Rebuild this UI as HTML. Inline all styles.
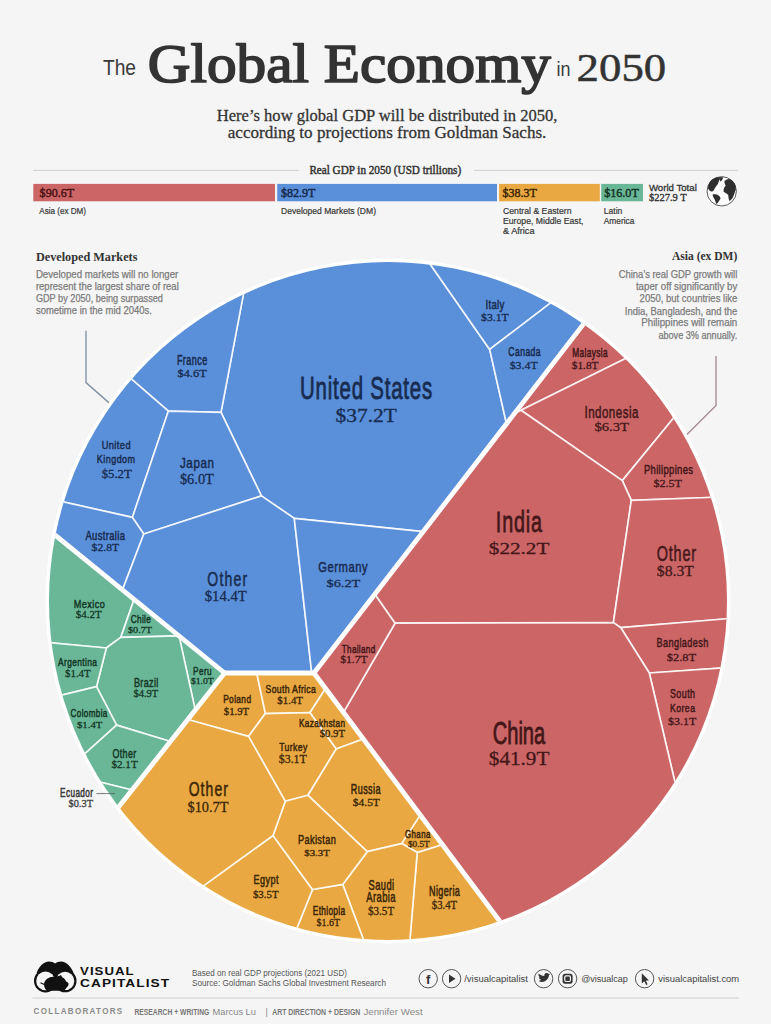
<!DOCTYPE html>
<html><head><meta charset="utf-8"><title>The Global Economy in 2050</title>
<style>
html,body{margin:0;padding:0;background:#f5f5f5;}
body{width:771px;height:1024px;overflow:hidden;}
svg{display:block;}
</style></head>
<body>
<svg width="771" height="1024" viewBox="0 0 771 1024">
<rect width="771" height="1024" fill="#f5f5f5"/>
<text x="103.0" y="74.7" font-family="'Liberation Sans', Arial, sans-serif" font-size="22.91" font-weight="normal" fill="#3a3a3a" text-anchor="start" textLength="33.0" lengthAdjust="spacingAndGlyphs">The</text>
<text x="147.7" y="81.8" font-family="'Liberation Serif', 'Times New Roman', serif" font-size="54.80" font-weight="normal" fill="#333333" text-anchor="start" textLength="403.2" lengthAdjust="spacingAndGlyphs" stroke="#333333" stroke-width="1.7" stroke-linejoin="round">Global Economy</text>
<text x="556.5" y="76.4" font-family="'Liberation Sans', Arial, sans-serif" font-size="20.50" font-weight="normal" fill="#3a3a3a" text-anchor="start" textLength="14.0" lengthAdjust="spacingAndGlyphs">in</text>
<text x="576.6" y="81.0" font-family="'Liberation Serif', 'Times New Roman', serif" font-size="40.80" font-weight="normal" fill="#333333" text-anchor="start" textLength="89.6" lengthAdjust="spacingAndGlyphs" stroke="#333333" stroke-width="0.5">2050</text>
<text x="216.8" y="120.7" font-family="'Liberation Serif', 'Times New Roman', serif" font-size="17.50" font-weight="normal" fill="#333333" text-anchor="start" textLength="340.7" lengthAdjust="spacingAndGlyphs" stroke="#333333" stroke-width="0.3">Here’s how global GDP will be distributed in 2050,</text>
<text x="227.8" y="138.4" font-family="'Liberation Serif', 'Times New Roman', serif" font-size="17.50" font-weight="normal" fill="#333333" text-anchor="start" textLength="318.6" lengthAdjust="spacingAndGlyphs" stroke="#333333" stroke-width="0.3">according to projections from Goldman Sachs.</text>
<text x="309.4" y="174.2" font-family="'Liberation Serif', 'Times New Roman', serif" font-size="12.00" font-weight="normal" fill="#333333" text-anchor="start" textLength="151.7" lengthAdjust="spacingAndGlyphs" stroke="#333333" stroke-width="0.45">Real GDP in 2050 (USD trillions)</text>
<line x1="33" y1="170.4" x2="298.5" y2="170.4" stroke="#cfcfcf" stroke-width="1"/>
<line x1="474" y1="170.4" x2="738" y2="170.4" stroke="#cfcfcf" stroke-width="1"/>
<rect x="33.3" y="183.9" width="241.7" height="17.4" fill="#cc6666"/>
<rect x="277.2" y="183.9" width="219.8" height="17.4" fill="#5a8fda"/>
<rect x="499.1" y="183.9" width="100.7" height="17.4" fill="#e9a841"/>
<rect x="601.2" y="183.9" width="41.8" height="17.4" fill="#6ab798"/>
<text x="39.6" y="196.7" font-family="'Liberation Serif', 'Times New Roman', serif" font-size="12.00" font-weight="normal" fill="#4a1212" text-anchor="start" textLength="34.6" lengthAdjust="spacingAndGlyphs" stroke-width="0.45" stroke="#4a1212">$90.6T</text>
<text x="281.0" y="196.7" font-family="'Liberation Serif', 'Times New Roman', serif" font-size="12.00" font-weight="normal" fill="#15294a" text-anchor="start" textLength="34.4" lengthAdjust="spacingAndGlyphs" stroke-width="0.45" stroke="#15294a">$82.9T</text>
<text x="502.6" y="196.7" font-family="'Liberation Serif', 'Times New Roman', serif" font-size="12.00" font-weight="normal" fill="#3d2606" text-anchor="start" textLength="34.2" lengthAdjust="spacingAndGlyphs" stroke-width="0.45" stroke="#3d2606">$38.3T</text>
<text x="604.2" y="196.7" font-family="'Liberation Serif', 'Times New Roman', serif" font-size="12.00" font-weight="normal" fill="#123424" text-anchor="start" textLength="34.6" lengthAdjust="spacingAndGlyphs" stroke-width="0.45" stroke="#123424">$16.0T</text>
<text x="39.3" y="213.7" font-family="'Liberation Sans', Arial, sans-serif" font-size="8.30" font-weight="normal" fill="#383838" text-anchor="start" textLength="46.7" lengthAdjust="spacingAndGlyphs" stroke="#383838" stroke-width="0.2">Asia (ex DM)</text>
<text x="281.0" y="213.7" font-family="'Liberation Sans', Arial, sans-serif" font-size="8.30" font-weight="normal" fill="#383838" text-anchor="start" textLength="95.0" lengthAdjust="spacingAndGlyphs" stroke="#383838" stroke-width="0.2">Developed Markets (DM)</text>
<text x="503.0" y="213.8" font-family="'Liberation Sans', Arial, sans-serif" font-size="8.30" font-weight="normal" fill="#383838" text-anchor="start" textLength="68.5" lengthAdjust="spacingAndGlyphs" stroke="#383838" stroke-width="0.2">Central &amp; Eastern</text>
<text x="503.0" y="223.9" font-family="'Liberation Sans', Arial, sans-serif" font-size="8.30" font-weight="normal" fill="#383838" text-anchor="start" textLength="80.5" lengthAdjust="spacingAndGlyphs" stroke="#383838" stroke-width="0.2">Europe, Middle East,</text>
<text x="503.0" y="234.0" font-family="'Liberation Sans', Arial, sans-serif" font-size="8.30" font-weight="normal" fill="#383838" text-anchor="start" textLength="31.5" lengthAdjust="spacingAndGlyphs" stroke="#383838" stroke-width="0.2">&amp; Africa</text>
<text x="603.8" y="213.8" font-family="'Liberation Sans', Arial, sans-serif" font-size="8.30" font-weight="normal" fill="#383838" text-anchor="start" textLength="18.5" lengthAdjust="spacingAndGlyphs" stroke="#383838" stroke-width="0.2">Latin</text>
<text x="603.8" y="223.9" font-family="'Liberation Sans', Arial, sans-serif" font-size="8.30" font-weight="normal" fill="#383838" text-anchor="start" textLength="30.5" lengthAdjust="spacingAndGlyphs" stroke="#383838" stroke-width="0.2">America</text>
<text x="648.9" y="190.7" font-family="'Liberation Sans', Arial, sans-serif" font-size="9.80" font-weight="normal" fill="#333333" text-anchor="start" textLength="47.9" lengthAdjust="spacingAndGlyphs" stroke="#333333" stroke-width="0.3">World Total</text>
<text x="648.9" y="200.9" font-family="'Liberation Serif', 'Times New Roman', serif" font-size="11.20" font-weight="normal" fill="#333333" text-anchor="start" textLength="37.8" lengthAdjust="spacingAndGlyphs" stroke="#333333" stroke-width="0.35">$227.9 T</text>
<circle cx="721.7" cy="191.3" r="14.7" fill="#fbfbfb" stroke="#4a4a4a" stroke-width="0.9"/>
<g fill="#2e2e2e">
<path d="M708.0 188.6 C707.9 185.0 709.3 182.0 711.2 180.2 C713.0 178.6 715.5 177.6 718.0 177.3 L720.6 177.2 L719.6 179.6 C718.9 181.2 718.4 182.6 717.9 184.0 C716.6 185.6 715.2 187.2 714.4 189.2 C713.6 190.8 712.6 191.4 711.3 191.6 C710.0 191.2 709.0 190.2 708.0 188.6Z"/>
<path d="M719.4 177.6 C720.6 177.0 722.2 177.0 723.2 177.6 C722.8 179.2 721.8 180.6 720.6 181.6 C719.8 180.6 719.4 179.2 719.4 177.6Z"/>
<path d="M712.6 194.4 C714.6 194.0 716.8 194.4 718.2 195.2 C719.6 196.2 720.4 197.4 720.6 198.4 C719.6 200.0 718.4 201.6 717.4 203.2 C716.9 203.9 716.3 204.0 716.0 203.4 C715.6 201.8 715.2 200.4 714.6 199.2 C713.6 197.8 712.8 196.2 712.6 194.4Z"/>
<path d="M724.4 181.0 C726.0 179.6 727.8 178.8 729.4 178.9 C731.6 179.6 733.6 181.4 734.8 183.6 C735.6 185.6 736.0 187.6 735.8 189.6 C735.0 192.0 734.0 194.6 733.0 197.2 C732.0 199.0 730.6 200.4 729.4 201.0 C728.6 199.2 728.4 197.0 728.2 195.0 C727.0 193.6 725.2 192.8 723.8 192.0 C723.4 190.6 723.6 189.2 724.0 188.2 C724.6 187.0 725.2 186.2 725.8 185.6 C725.0 184.4 724.4 182.8 724.4 181.0Z"/>
</g>
<text x="35.9" y="260.5" font-family="'Liberation Serif', 'Times New Roman', serif" font-size="12.60" font-weight="bold" fill="#333333" text-anchor="start" textLength="101.5" lengthAdjust="spacingAndGlyphs">Developed Markets</text>
<text x="35.9" y="278.1" font-family="'Liberation Sans', Arial, sans-serif" font-size="10.20" font-weight="normal" fill="#7c7c7c" text-anchor="start" textLength="142.4" lengthAdjust="spacingAndGlyphs" stroke="#7c7c7c" stroke-width="0.25">Developed markets will no longer</text>
<text x="35.9" y="290.2" font-family="'Liberation Sans', Arial, sans-serif" font-size="10.20" font-weight="normal" fill="#7c7c7c" text-anchor="start" textLength="142.9" lengthAdjust="spacingAndGlyphs" stroke="#7c7c7c" stroke-width="0.25">represent the largest share of real</text>
<text x="35.9" y="302.4" font-family="'Liberation Sans', Arial, sans-serif" font-size="10.20" font-weight="normal" fill="#7c7c7c" text-anchor="start" textLength="127.0" lengthAdjust="spacingAndGlyphs" stroke="#7c7c7c" stroke-width="0.25">GDP by 2050, being surpassed</text>
<text x="35.9" y="314.4" font-family="'Liberation Sans', Arial, sans-serif" font-size="10.20" font-weight="normal" fill="#7c7c7c" text-anchor="start" textLength="116.0" lengthAdjust="spacingAndGlyphs" stroke="#7c7c7c" stroke-width="0.25">sometime in the mid 2040s.</text>
<text x="737.3" y="260.3" font-family="'Liberation Serif', 'Times New Roman', serif" font-size="12.60" font-weight="bold" fill="#333333" text-anchor="end" textLength="65.3" lengthAdjust="spacingAndGlyphs">Asia (ex DM)</text>
<text x="618.7" y="277.9" font-family="'Liberation Sans', Arial, sans-serif" font-size="10.20" font-weight="normal" fill="#7c7c7c" text-anchor="start" textLength="118.6" lengthAdjust="spacingAndGlyphs" stroke="#7c7c7c" stroke-width="0.25">China’s real GDP growth will</text>
<text x="635.9" y="290.3" font-family="'Liberation Sans', Arial, sans-serif" font-size="10.20" font-weight="normal" fill="#7c7c7c" text-anchor="start" textLength="101.4" lengthAdjust="spacingAndGlyphs" stroke="#7c7c7c" stroke-width="0.25">taper off significantly by</text>
<text x="639.6" y="302.2" font-family="'Liberation Sans', Arial, sans-serif" font-size="10.20" font-weight="normal" fill="#7c7c7c" text-anchor="start" textLength="97.7" lengthAdjust="spacingAndGlyphs" stroke="#7c7c7c" stroke-width="0.25">2050, but countries like</text>
<text x="624.8" y="314.5" font-family="'Liberation Sans', Arial, sans-serif" font-size="10.20" font-weight="normal" fill="#7c7c7c" text-anchor="start" textLength="112.5" lengthAdjust="spacingAndGlyphs" stroke="#7c7c7c" stroke-width="0.25">India, Bangladesh, and the</text>
<text x="641.2" y="326.4" font-family="'Liberation Sans', Arial, sans-serif" font-size="10.20" font-weight="normal" fill="#7c7c7c" text-anchor="start" textLength="96.1" lengthAdjust="spacingAndGlyphs" stroke="#7c7c7c" stroke-width="0.25">Philippines will remain</text>
<text x="658.4" y="338.8" font-family="'Liberation Sans', Arial, sans-serif" font-size="10.20" font-weight="normal" fill="#7c7c7c" text-anchor="start" textLength="78.9" lengthAdjust="spacingAndGlyphs" stroke="#7c7c7c" stroke-width="0.25">above 3% annually.</text>
<polyline points="86.0,330.8 86.0,382.6 110.8,404.4" fill="none" stroke="#8394a7" stroke-width="1.4"/>
<polyline points="716.0,356.1 716.0,405.5 684.7,436.7" fill="none" stroke="#a98c94" stroke-width="1.4"/>
<defs><clipPath id="cc"><circle cx="388.0" cy="601.0" r="339.0"/></clipPath></defs>
<circle cx="388.0" cy="601.0" r="342.4" fill="#ffffff"/>
<g clip-path="url(#cc)">
<polygon points="245.67,282.34 245.67,282.34 254.00,278.75 262.43,275.37 270.94,272.22 279.53,269.28 288.20,266.57 296.93,264.09 305.72,261.84 314.57,259.81 323.47,258.02 332.41,256.46 341.39,255.13 350.40,254.03 359.44,253.17 368.49,252.55 377.56,252.16 386.64,252.00 395.71,252.09 404.79,252.40 413.85,252.96 422.89,253.75 422.89,253.75 489.70,349.40 506.51,423.74 423.15,531.64 294.30,518.40 261.40,495.90 221.00,412.40" fill="#5a8fda" stroke="#ffffff" stroke-opacity="0.85" stroke-width="1.7" stroke-linejoin="round"/>
<polygon points="422.89,253.75 422.89,253.75 431.81,254.76 440.70,256.00 449.55,257.47 458.37,259.17 467.13,261.09 475.85,263.24 484.51,265.61 493.10,268.20 501.62,271.01 510.07,274.04 518.44,277.29 526.72,280.75 534.91,284.43 543.00,288.31 550.99,292.40 558.87,296.69 558.87,296.69 489.70,349.40" fill="#5a8fda" stroke="#ffffff" stroke-opacity="0.85" stroke-width="1.7" stroke-linejoin="round"/>
<polygon points="558.87,296.69 558.87,296.69 566.75,301.25 574.51,306.02 582.14,310.98 589.64,316.15 589.64,316.15 506.51,423.74 489.70,349.40" fill="#5a8fda" stroke="#ffffff" stroke-opacity="0.85" stroke-width="1.7" stroke-linejoin="round"/>
<polygon points="124.03,372.71 124.03,372.71 129.99,365.99 136.13,359.42 142.43,353.02 148.89,346.78 155.52,340.71 162.29,334.81 169.22,329.09 176.29,323.54 183.51,318.19 190.85,313.02 198.33,308.04 205.94,303.25 213.66,298.66 221.50,294.27 229.46,290.09 237.51,286.11 245.67,282.34 245.67,282.34 221.00,412.40 168.40,411.10" fill="#5a8fda" stroke="#ffffff" stroke-opacity="0.85" stroke-width="1.7" stroke-linejoin="round"/>
<polygon points="53.99,499.82 53.99,499.82 56.75,491.12 59.74,482.48 62.96,473.93 66.39,465.46 70.05,457.09 73.93,448.81 78.02,440.64 82.33,432.58 86.84,424.64 91.56,416.82 96.48,409.12 101.61,401.55 106.93,394.12 112.44,386.84 118.14,379.69 124.03,372.71 124.03,372.71 168.40,411.10 132.40,517.40" fill="#5a8fda" stroke="#ffffff" stroke-opacity="0.85" stroke-width="1.7" stroke-linejoin="round"/>
<polygon points="168.40,411.10 221.00,412.40 261.40,495.90 143.80,534.00 132.40,517.40" fill="#5a8fda" stroke="#ffffff" stroke-opacity="0.85" stroke-width="1.7" stroke-linejoin="round"/>
<polygon points="46.67,528.23 46.67,528.23 48.84,518.69 51.28,509.22 53.99,499.82 53.99,499.82 132.40,517.40 143.80,534.00 122.47,589.90" fill="#5a8fda" stroke="#ffffff" stroke-opacity="0.85" stroke-width="1.7" stroke-linejoin="round"/>
<polygon points="143.80,534.00 261.40,495.90 294.30,518.40 311.74,673.00 224.60,673.00 122.47,589.90" fill="#5a8fda" stroke="#ffffff" stroke-opacity="0.85" stroke-width="1.7" stroke-linejoin="round"/>
<polygon points="294.30,518.40 423.15,531.64 313.94,673.00 311.74,673.00" fill="#5a8fda" stroke="#ffffff" stroke-opacity="0.85" stroke-width="1.7" stroke-linejoin="round"/>
<polygon points="589.64,316.15 589.64,316.15 597.58,321.93 605.34,327.94 612.94,334.16 620.35,340.59 627.58,347.23 634.63,354.07 634.63,354.07 521.00,410.20 514.50,413.41" fill="#cc6666" stroke="#ffffff" stroke-opacity="0.85" stroke-width="1.7" stroke-linejoin="round"/>
<polygon points="521.00,410.20 634.63,354.07 634.63,354.07 640.94,360.53 647.08,367.16 653.04,373.95 658.83,380.88 664.44,387.97 669.86,395.19 675.09,402.56 680.13,410.06 680.13,410.06 622.30,480.60" fill="#cc6666" stroke="#ffffff" stroke-opacity="0.85" stroke-width="1.7" stroke-linejoin="round"/>
<polygon points="622.30,480.60 680.13,410.06 680.13,410.06 684.84,417.46 689.36,424.97 693.68,432.60 697.82,440.33 701.76,448.17 705.50,456.10 709.04,464.12 712.38,472.23 715.51,480.43 718.44,488.69 721.15,497.03 721.15,497.03 631.30,500.30" fill="#cc6666" stroke="#ffffff" stroke-opacity="0.85" stroke-width="1.7" stroke-linejoin="round"/>
<polygon points="514.50,413.41 521.00,410.20 622.30,480.60 631.30,500.30 613.40,622.60 395.00,623.20 374.79,594.25" fill="#cc6666" stroke="#ffffff" stroke-opacity="0.85" stroke-width="1.7" stroke-linejoin="round"/>
<polygon points="631.30,500.30 721.15,497.03 721.15,497.03 723.66,505.42 725.95,513.86 728.03,522.37 729.89,530.92 731.54,539.51 732.97,548.15 734.19,556.82 735.19,565.51 735.97,574.23 736.53,582.96 736.88,591.71 737.00,600.46 736.90,609.21 736.59,617.96 736.59,617.96 620.80,627.70 613.40,622.60" fill="#cc6666" stroke="#ffffff" stroke-opacity="0.85" stroke-width="1.7" stroke-linejoin="round"/>
<polygon points="620.80,627.70 736.59,617.96 736.59,617.96 735.96,627.92 735.05,637.87 733.85,647.78 732.37,657.65 730.61,667.48 730.61,667.48 649.30,673.00" fill="#cc6666" stroke="#ffffff" stroke-opacity="0.85" stroke-width="1.7" stroke-linejoin="round"/>
<polygon points="649.30,673.00 730.61,667.48 730.61,667.48 728.72,676.55 726.60,685.57 724.23,694.53 721.63,703.43 718.79,712.25 715.72,720.99 712.42,729.65 708.89,738.22 705.14,746.69 701.15,755.06 696.95,763.32 692.54,771.47 687.90,779.49 683.06,787.39 678.00,795.16 678.00,795.16" fill="#cc6666" stroke="#ffffff" stroke-opacity="0.85" stroke-width="1.7" stroke-linejoin="round"/>
<polygon points="395.00,623.20 613.40,622.60 620.80,627.70 649.30,673.00 678.00,795.16 678.00,795.16 672.97,802.48 667.75,809.66 662.35,816.71 656.78,823.62 651.03,830.38 645.11,837.00 639.02,843.47 632.77,849.77 626.36,855.92 619.80,861.90 613.09,867.71 606.23,873.35 599.23,878.82 592.10,884.10 584.83,889.20 577.43,894.11 569.92,898.84 562.28,903.37 554.53,907.70 546.68,911.84 538.72,915.78 530.66,919.51 522.51,923.04 514.28,926.35 505.96,929.46 505.96,929.46 343.44,712.40" fill="#cc6666" stroke="#ffffff" stroke-opacity="0.85" stroke-width="1.7" stroke-linejoin="round"/>
<polygon points="374.79,594.25 395.00,623.20 343.44,712.40 313.94,673.00" fill="#cc6666" stroke="#ffffff" stroke-opacity="0.85" stroke-width="1.7" stroke-linejoin="round"/>
<polygon points="224.60,673.00 256.79,673.00 265.40,713.60 248.50,736.40 187.80,719.53" fill="#e9a841" stroke="#ffffff" stroke-opacity="0.85" stroke-width="1.7" stroke-linejoin="round"/>
<polygon points="256.79,673.00 313.94,673.00 325.60,688.57 309.90,712.70 265.40,713.60" fill="#e9a841" stroke="#ffffff" stroke-opacity="0.85" stroke-width="1.7" stroke-linejoin="round"/>
<polygon points="309.90,712.70 325.60,688.57 363.33,738.96 336.20,749.00" fill="#e9a841" stroke="#ffffff" stroke-opacity="0.85" stroke-width="1.7" stroke-linejoin="round"/>
<polygon points="265.40,713.60 309.90,712.70 336.20,749.00 308.00,795.30 285.30,801.30 248.50,736.40" fill="#e9a841" stroke="#ffffff" stroke-opacity="0.85" stroke-width="1.7" stroke-linejoin="round"/>
<polygon points="336.20,749.00 363.33,738.96 420.36,815.13 401.70,843.60 367.20,851.70 308.00,795.30" fill="#e9a841" stroke="#ffffff" stroke-opacity="0.85" stroke-width="1.7" stroke-linejoin="round"/>
<polygon points="401.70,843.60 420.36,815.13 442.53,844.74 417.20,852.60" fill="#e9a841" stroke="#ffffff" stroke-opacity="0.85" stroke-width="1.7" stroke-linejoin="round"/>
<polygon points="417.20,852.60 442.53,844.74 505.96,929.46 505.96,929.46 497.43,932.40 488.84,935.12 480.17,937.61 471.44,939.88 462.66,941.92 453.82,943.74 444.95,945.32 436.03,946.68 427.09,947.80 418.11,948.70 409.12,949.36 409.12,949.36" fill="#e9a841" stroke="#ffffff" stroke-opacity="0.85" stroke-width="1.7" stroke-linejoin="round"/>
<polygon points="367.20,851.70 401.70,843.60 417.20,852.60 409.12,949.36 409.12,949.36 398.62,949.84 388.12,950.00 377.62,949.85 367.12,949.38 367.12,949.38 342.70,884.40" fill="#e9a841" stroke="#ffffff" stroke-opacity="0.85" stroke-width="1.7" stroke-linejoin="round"/>
<polygon points="342.70,884.40 367.12,949.38 367.12,949.38 357.78,948.69 348.46,947.75 339.17,946.57 329.92,945.13 320.70,943.45 311.54,941.52 302.43,939.35 293.38,936.93 293.38,936.93 312.50,889.50" fill="#e9a841" stroke="#ffffff" stroke-opacity="0.85" stroke-width="1.7" stroke-linejoin="round"/>
<polygon points="273.00,835.50 312.50,889.50 293.38,936.93 293.38,936.93 284.71,934.37 276.11,931.58 267.59,928.57 259.15,925.34 250.79,921.90 242.53,918.24 234.36,914.36 226.29,910.28 218.34,905.99 210.50,901.49 202.77,896.79 195.18,891.89 195.18,891.89" fill="#e9a841" stroke="#ffffff" stroke-opacity="0.85" stroke-width="1.7" stroke-linejoin="round"/>
<polygon points="285.30,801.30 308.00,795.30 367.20,851.70 342.70,884.40 312.50,889.50 273.00,835.50" fill="#e9a841" stroke="#ffffff" stroke-opacity="0.85" stroke-width="1.7" stroke-linejoin="round"/>
<polygon points="187.80,719.53 248.50,736.40 285.30,801.30 273.00,835.50 195.18,891.89 195.18,891.89 187.95,886.98 180.86,881.88 173.89,876.61 167.06,871.16 160.37,865.55 153.82,859.77 147.41,853.82 141.16,847.72 135.06,841.47 129.12,835.06 123.35,828.51 117.73,821.81 112.29,814.98 112.29,814.98" fill="#e9a841" stroke="#ffffff" stroke-opacity="0.85" stroke-width="1.7" stroke-linejoin="round"/>
<polygon points="46.67,528.23 134.11,599.37 120.80,637.40 106.30,648.00 41.40,641.83 41.40,641.83 40.48,633.09 39.78,624.33 39.30,615.56 39.05,606.78 39.01,597.99 39.20,589.20 39.61,580.43 40.24,571.66 41.08,562.92 42.15,554.19 43.44,545.50 44.95,536.85 46.67,528.23 46.67,528.23" fill="#6ab798" stroke="#ffffff" stroke-opacity="0.85" stroke-width="1.7" stroke-linejoin="round"/>
<polygon points="134.11,599.37 179.04,635.93 120.80,637.40" fill="#6ab798" stroke="#ffffff" stroke-opacity="0.85" stroke-width="1.7" stroke-linejoin="round"/>
<polygon points="179.04,635.93 224.60,673.00 195.25,710.10" fill="#6ab798" stroke="#ffffff" stroke-opacity="0.85" stroke-width="1.7" stroke-linejoin="round"/>
<polygon points="120.80,637.40 179.04,635.93 195.25,710.10 170.43,741.48 116.60,725.10 96.50,686.70 106.30,648.00" fill="#6ab798" stroke="#ffffff" stroke-opacity="0.85" stroke-width="1.7" stroke-linejoin="round"/>
<polygon points="41.40,641.83 106.30,648.00 96.50,686.70 52.56,697.33 52.56,697.33 50.07,688.22 47.84,679.04 45.85,669.81 44.11,660.52 42.63,651.20 41.40,641.83 41.40,641.83" fill="#6ab798" stroke="#ffffff" stroke-opacity="0.85" stroke-width="1.7" stroke-linejoin="round"/>
<polygon points="52.56,697.33 96.50,686.70 116.60,725.10 77.52,760.37 77.52,760.37 73.21,751.68 69.14,742.88 65.32,733.96 61.75,724.94 58.43,715.82 55.37,706.62 52.56,697.33 52.56,697.33" fill="#6ab798" stroke="#ffffff" stroke-opacity="0.85" stroke-width="1.7" stroke-linejoin="round"/>
<polygon points="77.52,760.37 116.60,725.10 170.43,741.48 132.04,790.01 87.95,779.24 87.95,779.24 82.58,769.89 77.52,760.37 77.52,760.37" fill="#6ab798" stroke="#ffffff" stroke-opacity="0.85" stroke-width="1.7" stroke-linejoin="round"/>
<polygon points="87.95,779.24 132.04,790.01 112.29,814.98 112.29,814.98 105.79,806.33 99.56,797.48 93.61,788.45 87.95,779.24 87.95,779.24" fill="#6ab798" stroke="#ffffff" stroke-opacity="0.85" stroke-width="1.7" stroke-linejoin="round"/>
<line x1="589.64" y1="316.15" x2="313.94" y2="673.00" stroke="#ffffff" stroke-width="4.8" stroke-linecap="round"/>
<line x1="224.60" y1="673.00" x2="313.94" y2="673.00" stroke="#ffffff" stroke-width="4.8" stroke-linecap="round"/>
<line x1="46.67" y1="528.23" x2="224.60" y2="673.00" stroke="#ffffff" stroke-width="4.8" stroke-linecap="round"/>
<line x1="224.60" y1="673.00" x2="112.29" y2="814.98" stroke="#ffffff" stroke-width="4.8" stroke-linecap="round"/>
<line x1="313.94" y1="673.00" x2="505.96" y2="929.46" stroke="#ffffff" stroke-width="4.8" stroke-linecap="round"/>
</g>
<text transform="translate(300.0 399.4) scale(0.670 1)" font-family="'Liberation Sans', Arial, sans-serif" font-size="30.45" fill="#172c50" stroke="#172c50" stroke-width="0.82" textLength="197.2" lengthAdjust="spacing">United States</text>
<text x="335.6" y="422.3" font-family="'Liberation Serif', 'Times New Roman', serif" font-size="18.24" fill="#172c50" stroke="#172c50" stroke-width="0.30" textLength="61.3" lengthAdjust="spacingAndGlyphs">$37.2T</text>
<text transform="translate(485.4 308.7) scale(0.719 1)" font-family="'Liberation Sans', Arial, sans-serif" font-size="13.41" fill="#172c50" stroke="#172c50" stroke-width="0.52" textLength="26.4" lengthAdjust="spacing">Italy</text>
<text x="481.1" y="320.6" font-family="'Liberation Serif', 'Times New Roman', serif" font-size="10.54" fill="#172c50" stroke="#172c50" stroke-width="0.28" textLength="27.7" lengthAdjust="spacingAndGlyphs">$3.1T</text>
<text transform="translate(508.3 356.0) scale(0.698 1)" font-family="'Liberation Sans', Arial, sans-serif" font-size="12.29" fill="#172c50" stroke="#172c50" stroke-width="0.54" textLength="46.3" lengthAdjust="spacing">Canada</text>
<text x="509.7" y="368.8" font-family="'Liberation Serif', 'Times New Roman', serif" font-size="11.08" fill="#172c50" stroke="#172c50" stroke-width="0.28" textLength="28.0" lengthAdjust="spacingAndGlyphs">$3.4T</text>
<text transform="translate(176.9 364.5) scale(0.657 1)" font-family="'Liberation Sans', Arial, sans-serif" font-size="13.83" fill="#172c50" stroke="#172c50" stroke-width="0.57" textLength="46.3" lengthAdjust="spacing">France</text>
<text x="177.5" y="376.8" font-family="'Liberation Serif', 'Times New Roman', serif" font-size="9.46" fill="#172c50" stroke="#172c50" stroke-width="0.28" textLength="29.2" lengthAdjust="spacingAndGlyphs">$4.6T</text>
<text transform="translate(101.7 449.1) scale(0.790 1)" font-family="'Liberation Sans', Arial, sans-serif" font-size="11.73" fill="#172c50" stroke="#172c50" stroke-width="0.47" textLength="36.5" lengthAdjust="spacing">United</text>
<text transform="translate(96.8 462.7) scale(0.769 1)" font-family="'Liberation Sans', Arial, sans-serif" font-size="11.73" fill="#172c50" stroke="#172c50" stroke-width="0.49" textLength="49.8" lengthAdjust="spacing">Kingdom</text>
<text x="101.7" y="477.7" font-family="'Liberation Serif', 'Times New Roman', serif" font-size="11.89" fill="#172c50" stroke="#172c50" stroke-width="0.28" textLength="30.1" lengthAdjust="spacingAndGlyphs">$5.2T</text>
<text transform="translate(179.9 467.9) scale(0.781 1)" font-family="'Liberation Sans', Arial, sans-serif" font-size="14.94" fill="#172c50" stroke="#172c50" stroke-width="0.48" textLength="43.8" lengthAdjust="spacing">Japan</text>
<text x="179.9" y="483.5" font-family="'Liberation Serif', 'Times New Roman', serif" font-size="14.46" fill="#172c50" stroke="#172c50" stroke-width="0.30" textLength="34.0" lengthAdjust="spacingAndGlyphs">$6.0T</text>
<text transform="translate(85.4 540.0) scale(0.704 1)" font-family="'Liberation Sans', Arial, sans-serif" font-size="13.41" fill="#172c50" stroke="#172c50" stroke-width="0.53" textLength="56.1" lengthAdjust="spacing">Australia</text>
<text x="91.6" y="550.6" font-family="'Liberation Serif', 'Times New Roman', serif" font-size="9.86" fill="#172c50" stroke="#172c50" stroke-width="0.28" textLength="27.5" lengthAdjust="spacingAndGlyphs">$2.8T</text>
<text transform="translate(207.3 585.6) scale(0.670 1)" font-family="'Liberation Sans', Arial, sans-serif" font-size="20.95" fill="#172c50" stroke="#172c50" stroke-width="0.56" textLength="59.7" lengthAdjust="spacing">Other</text>
<text x="204.7" y="601.2" font-family="'Liberation Serif', 'Times New Roman', serif" font-size="14.32" fill="#172c50" stroke="#172c50" stroke-width="0.30" textLength="42.1" lengthAdjust="spacingAndGlyphs">$14.4T</text>
<text transform="translate(318.2 572.3) scale(0.735 1)" font-family="'Liberation Sans', Arial, sans-serif" font-size="15.22" fill="#172c50" stroke="#172c50" stroke-width="0.51" textLength="67.3" lengthAdjust="spacing">Germany</text>
<text x="326.6" y="586.7" font-family="'Liberation Serif', 'Times New Roman', serif" font-size="11.35" fill="#172c50" stroke="#172c50" stroke-width="0.28" textLength="33.7" lengthAdjust="spacingAndGlyphs">$6.2T</text>
<text transform="translate(572.3 357.2) scale(0.662 1)" font-family="'Liberation Sans', Arial, sans-serif" font-size="12.57" fill="#441719" stroke="#441719" stroke-width="0.57" textLength="53.3" lengthAdjust="spacing">Malaysia</text>
<text x="571.8" y="368.5" font-family="'Liberation Serif', 'Times New Roman', serif" font-size="10.27" fill="#441719" stroke="#441719" stroke-width="0.28" textLength="26.7" lengthAdjust="spacingAndGlyphs">$1.8T</text>
<text transform="translate(584.5 417.7) scale(0.726 1)" font-family="'Liberation Sans', Arial, sans-serif" font-size="15.92" fill="#441719" stroke="#441719" stroke-width="0.52" textLength="74.2" lengthAdjust="spacing">Indonesia</text>
<text x="594.5" y="431.1" font-family="'Liberation Serif', 'Times New Roman', serif" font-size="12.70" fill="#441719" stroke="#441719" stroke-width="0.28" textLength="34.5" lengthAdjust="spacingAndGlyphs">$6.3T</text>
<text transform="translate(643.9 474.2) scale(0.712 1)" font-family="'Liberation Sans', Arial, sans-serif" font-size="13.27" fill="#441719" stroke="#441719" stroke-width="0.53" textLength="69.0" lengthAdjust="spacing">Philippines</text>
<text x="653.5" y="486.6" font-family="'Liberation Serif', 'Times New Roman', serif" font-size="9.86" fill="#441719" stroke="#441719" stroke-width="0.28" textLength="28.5" lengthAdjust="spacingAndGlyphs">$2.5T</text>
<text transform="translate(495.8 531.5) scale(0.670 1)" font-family="'Liberation Sans', Arial, sans-serif" font-size="29.47" fill="#441719" stroke="#441719" stroke-width="0.79" textLength="69.0" lengthAdjust="spacing">India</text>
<text x="488.8" y="553.8" font-family="'Liberation Serif', 'Times New Roman', serif" font-size="17.03" fill="#441719" stroke="#441719" stroke-width="0.30" textLength="60.6" lengthAdjust="spacingAndGlyphs">$22.2T</text>
<text transform="translate(656.8 560.7) scale(0.670 1)" font-family="'Liberation Sans', Arial, sans-serif" font-size="21.51" fill="#441719" stroke="#441719" stroke-width="0.58" textLength="58.5" lengthAdjust="spacing">Other</text>
<text x="656.8" y="576.1" font-family="'Liberation Serif', 'Times New Roman', serif" font-size="13.92" fill="#441719" stroke="#441719" stroke-width="0.28" textLength="37.0" lengthAdjust="spacingAndGlyphs">$8.3T</text>
<text transform="translate(656.6 647.4) scale(0.715 1)" font-family="'Liberation Sans', Arial, sans-serif" font-size="12.71" fill="#441719" stroke="#441719" stroke-width="0.52" textLength="72.2" lengthAdjust="spacing">Bangladesh</text>
<text x="666.8" y="661.3" font-family="'Liberation Serif', 'Times New Roman', serif" font-size="10.14" fill="#441719" stroke="#441719" stroke-width="0.28" textLength="29.3" lengthAdjust="spacingAndGlyphs">$2.8T</text>
<text transform="translate(669.9 698.4) scale(0.744 1)" font-family="'Liberation Sans', Arial, sans-serif" font-size="12.01" fill="#441719" stroke="#441719" stroke-width="0.50" textLength="33.8" lengthAdjust="spacing">South</text>
<text transform="translate(669.9 711.8) scale(0.835 1)" font-family="'Liberation Sans', Arial, sans-serif" font-size="10.47" fill="#441719" stroke="#441719" stroke-width="0.45" textLength="30.1" lengthAdjust="spacing">Korea</text>
<text x="668.1" y="724.7" font-family="'Liberation Serif', 'Times New Roman', serif" font-size="10.14" fill="#441719" stroke="#441719" stroke-width="0.28" textLength="28.3" lengthAdjust="spacingAndGlyphs">$3.1T</text>
<text transform="translate(492.7 743.5) scale(0.634 1)" font-family="'Liberation Sans', Arial, sans-serif" font-size="31.70" fill="#441719" stroke="#441719" stroke-width="0.90" textLength="82.8" lengthAdjust="spacing">China</text>
<text x="488.8" y="764.5" font-family="'Liberation Serif', 'Times New Roman', serif" font-size="18.51" fill="#441719" stroke="#441719" stroke-width="0.30" textLength="60.6" lengthAdjust="spacingAndGlyphs">$41.9T</text>
<text transform="translate(341.8 652.5) scale(0.743 1)" font-family="'Liberation Sans', Arial, sans-serif" font-size="10.89" fill="#441719" stroke="#441719" stroke-width="0.50" textLength="44.9" lengthAdjust="spacing">Thailand</text>
<text x="340.2" y="663.2" font-family="'Liberation Serif', 'Times New Roman', serif" font-size="9.59" fill="#441719" stroke="#441719" stroke-width="0.28" textLength="27.5" lengthAdjust="spacingAndGlyphs">$1.7T</text>
<text transform="translate(223.2 703.0) scale(0.762 1)" font-family="'Liberation Sans', Arial, sans-serif" font-size="10.89" fill="#3a2608" stroke="#3a2608" stroke-width="0.49" textLength="36.5" lengthAdjust="spacing">Poland</text>
<text x="223.8" y="714.6" font-family="'Liberation Serif', 'Times New Roman', serif" font-size="10.00" fill="#3a2608" stroke="#3a2608" stroke-width="0.28" textLength="25.3" lengthAdjust="spacingAndGlyphs">$1.9T</text>
<text transform="translate(265.6 693.2) scale(0.795 1)" font-family="'Liberation Sans', Arial, sans-serif" font-size="10.89" fill="#3a2608" stroke="#3a2608" stroke-width="0.47" textLength="63.2" lengthAdjust="spacing">South Africa</text>
<text x="277.3" y="704.3" font-family="'Liberation Serif', 'Times New Roman', serif" font-size="9.73" fill="#3a2608" stroke="#3a2608" stroke-width="0.28" textLength="25.7" lengthAdjust="spacingAndGlyphs">$1.4T</text>
<text transform="translate(299.0 726.6) scale(0.706 1)" font-family="'Liberation Sans', Arial, sans-serif" font-size="11.59" fill="#3a2608" stroke="#3a2608" stroke-width="0.53" textLength="65.1" lengthAdjust="spacing">Kazakhstan</text>
<text x="319.7" y="736.6" font-family="'Liberation Serif', 'Times New Roman', serif" font-size="10.00" fill="#3a2608" stroke="#3a2608" stroke-width="0.28" textLength="25.3" lengthAdjust="spacingAndGlyphs">$0.9T</text>
<text transform="translate(279.2 751.0) scale(0.740 1)" font-family="'Liberation Sans', Arial, sans-serif" font-size="11.73" fill="#3a2608" stroke="#3a2608" stroke-width="0.51" textLength="38.1" lengthAdjust="spacing">Turkey</text>
<text x="278.8" y="762.7" font-family="'Liberation Serif', 'Times New Roman', serif" font-size="11.89" fill="#3a2608" stroke="#3a2608" stroke-width="0.28" textLength="28.0" lengthAdjust="spacingAndGlyphs">$3.1T</text>
<text transform="translate(188.7 796.1) scale(0.670 1)" font-family="'Liberation Sans', Arial, sans-serif" font-size="20.81" fill="#3a2608" stroke="#3a2608" stroke-width="0.56" textLength="58.5" lengthAdjust="spacing">Other</text>
<text x="187.5" y="812.0" font-family="'Liberation Serif', 'Times New Roman', serif" font-size="14.19" fill="#3a2608" stroke="#3a2608" stroke-width="0.30" textLength="40.9" lengthAdjust="spacingAndGlyphs">$10.7T</text>
<text transform="translate(350.8 794.1) scale(0.647 1)" font-family="'Liberation Sans', Arial, sans-serif" font-size="13.97" fill="#3a2608" stroke="#3a2608" stroke-width="0.58" textLength="45.9" lengthAdjust="spacing">Russia</text>
<text x="352.8" y="805.5" font-family="'Liberation Serif', 'Times New Roman', serif" font-size="9.59" fill="#3a2608" stroke="#3a2608" stroke-width="0.28" textLength="27.1" lengthAdjust="spacingAndGlyphs">$4.5T</text>
<text transform="translate(405.0 838.3) scale(0.713 1)" font-family="'Liberation Sans', Arial, sans-serif" font-size="11.03" fill="#3a2608" stroke="#3a2608" stroke-width="0.53" textLength="35.6" lengthAdjust="spacing">Ghana</text>
<text x="407.9" y="846.9" font-family="'Liberation Serif', 'Times New Roman', serif" font-size="8.92" fill="#3a2608" stroke="#3a2608" stroke-width="0.28" textLength="21.9" lengthAdjust="spacingAndGlyphs">$0.5T</text>
<text transform="translate(298.0 844.2) scale(0.706 1)" font-family="'Liberation Sans', Arial, sans-serif" font-size="12.99" fill="#3a2608" stroke="#3a2608" stroke-width="0.53" textLength="53.6" lengthAdjust="spacing">Pakistan</text>
<text x="304.2" y="855.9" font-family="'Liberation Serif', 'Times New Roman', serif" font-size="8.78" fill="#3a2608" stroke="#3a2608" stroke-width="0.28" textLength="25.7" lengthAdjust="spacingAndGlyphs">$3.3T</text>
<text transform="translate(253.6 883.9) scale(0.740 1)" font-family="'Liberation Sans', Arial, sans-serif" font-size="12.29" fill="#3a2608" stroke="#3a2608" stroke-width="0.51" textLength="33.8" lengthAdjust="spacing">Egypt</text>
<text x="252.9" y="898.0" font-family="'Liberation Serif', 'Times New Roman', serif" font-size="10.54" fill="#3a2608" stroke="#3a2608" stroke-width="0.28" textLength="25.7" lengthAdjust="spacingAndGlyphs">$3.5T</text>
<text transform="translate(368.5 889.7) scale(0.669 1)" font-family="'Liberation Sans', Arial, sans-serif" font-size="13.97" fill="#3a2608" stroke="#3a2608" stroke-width="0.56" textLength="38.4" lengthAdjust="spacing">Saudi</text>
<text transform="translate(366.2 902.0) scale(0.658 1)" font-family="'Liberation Sans', Arial, sans-serif" font-size="14.39" fill="#3a2608" stroke="#3a2608" stroke-width="0.57" textLength="44.7" lengthAdjust="spacing">Arabia</text>
<text x="367.9" y="914.8" font-family="'Liberation Serif', 'Times New Roman', serif" font-size="11.89" fill="#3a2608" stroke="#3a2608" stroke-width="0.28" textLength="26.3" lengthAdjust="spacingAndGlyphs">$3.5T</text>
<text transform="translate(429.0 896.3) scale(0.629 1)" font-family="'Liberation Sans', Arial, sans-serif" font-size="14.39" fill="#3a2608" stroke="#3a2608" stroke-width="0.60" textLength="49.0" lengthAdjust="spacing">Nigeria</text>
<text x="431.8" y="908.8" font-family="'Liberation Serif', 'Times New Roman', serif" font-size="11.49" fill="#3a2608" stroke="#3a2608" stroke-width="0.28" textLength="25.2" lengthAdjust="spacingAndGlyphs">$3.4T</text>
<text transform="translate(312.8 915.4) scale(0.633 1)" font-family="'Liberation Sans', Arial, sans-serif" font-size="13.13" fill="#3a2608" stroke="#3a2608" stroke-width="0.59" textLength="51.0" lengthAdjust="spacing">Ethiopia</text>
<text x="316.6" y="926.0" font-family="'Liberation Serif', 'Times New Roman', serif" font-size="10.54" fill="#3a2608" stroke="#3a2608" stroke-width="0.28" textLength="23.4" lengthAdjust="spacingAndGlyphs">$1.6T</text>
<text transform="translate(73.7 607.6) scale(0.788 1)" font-family="'Liberation Sans', Arial, sans-serif" font-size="11.59" fill="#143826" stroke="#143826" stroke-width="0.48" textLength="39.5" lengthAdjust="spacing">Mexico</text>
<text x="75.8" y="618.0" font-family="'Liberation Serif', 'Times New Roman', serif" font-size="10.68" fill="#143826" stroke="#143826" stroke-width="0.28" textLength="25.9" lengthAdjust="spacingAndGlyphs">$4.2T</text>
<text transform="translate(130.7 623.2) scale(0.711 1)" font-family="'Liberation Sans', Arial, sans-serif" font-size="11.59" fill="#143826" stroke="#143826" stroke-width="0.53" textLength="28.4" lengthAdjust="spacing">Chile</text>
<text x="128.0" y="633.2" font-family="'Liberation Serif', 'Times New Roman', serif" font-size="8.51" fill="#143826" stroke="#143826" stroke-width="0.28" textLength="24.1" lengthAdjust="spacingAndGlyphs">$0.7T</text>
<text transform="translate(58.1 666.4) scale(0.727 1)" font-family="'Liberation Sans', Arial, sans-serif" font-size="11.59" fill="#143826" stroke="#143826" stroke-width="0.52" textLength="53.4" lengthAdjust="spacing">Argentina</text>
<text x="65.0" y="677.2" font-family="'Liberation Serif', 'Times New Roman', serif" font-size="10.68" fill="#143826" stroke="#143826" stroke-width="0.28" textLength="25.7" lengthAdjust="spacingAndGlyphs">$1.4T</text>
<text transform="translate(133.9 686.5) scale(0.699 1)" font-family="'Liberation Sans', Arial, sans-serif" font-size="12.99" fill="#143826" stroke="#143826" stroke-width="0.54" textLength="34.9" lengthAdjust="spacing">Brazil</text>
<text x="133.4" y="696.9" font-family="'Liberation Serif', 'Times New Roman', serif" font-size="9.86" fill="#143826" stroke="#143826" stroke-width="0.28" textLength="24.9" lengthAdjust="spacingAndGlyphs">$4.9T</text>
<text transform="translate(193.0 675.1) scale(0.710 1)" font-family="'Liberation Sans', Arial, sans-serif" font-size="11.59" fill="#143826" stroke="#143826" stroke-width="0.53" textLength="26.3" lengthAdjust="spacing">Peru</text>
<text x="190.9" y="684.4" font-family="'Liberation Serif', 'Times New Roman', serif" font-size="8.38" fill="#143826" stroke="#143826" stroke-width="0.28" textLength="22.8" lengthAdjust="spacingAndGlyphs">$1.0T</text>
<text transform="translate(70.6 717.4) scale(0.714 1)" font-family="'Liberation Sans', Arial, sans-serif" font-size="11.31" fill="#143826" stroke="#143826" stroke-width="0.53" textLength="51.4" lengthAdjust="spacing">Colombia</text>
<text x="77.0" y="727.8" font-family="'Liberation Serif', 'Times New Roman', serif" font-size="9.05" fill="#143826" stroke="#143826" stroke-width="0.28" textLength="25.3" lengthAdjust="spacingAndGlyphs">$1.4T</text>
<text transform="translate(112.4 758.2) scale(0.684 1)" font-family="'Liberation Sans', Arial, sans-serif" font-size="12.99" fill="#143826" stroke="#143826" stroke-width="0.55" textLength="34.9" lengthAdjust="spacing">Other</text>
<text x="111.5" y="768.3" font-family="'Liberation Serif', 'Times New Roman', serif" font-size="10.27" fill="#143826" stroke="#143826" stroke-width="0.28" textLength="26.2" lengthAdjust="spacingAndGlyphs">$2.1T</text>
<text transform="translate(60.1 797.0) scale(0.692 1)" font-family="'Liberation Sans', Arial, sans-serif" font-size="11.87" fill="#3c3c3c" stroke="#3c3c3c" stroke-width="0.54" textLength="47.5" lengthAdjust="spacing">Ecuador</text>
<text x="68.5" y="807.1" font-family="'Liberation Serif', 'Times New Roman', serif" font-size="10.27" fill="#3c3c3c" stroke="#3c3c3c" stroke-width="0.28" textLength="24.5" lengthAdjust="spacingAndGlyphs">$0.3T</text>
<line x1="96.4" y1="793.6" x2="114.9" y2="793.6" stroke="#5a5a5a" stroke-width="0.8"/>
<path d="M36.6 973.2 C38.6 966.8 43.6 961.5 49.0 961.5 C51.8 961.5 53.6 962.3 55.1 963.4 C56.6 962.3 58.4 961.5 61.0 961.5 C66.4 961.5 71.4 966.8 73.6 973.2 L55.3 981 Z" fill="#111"/>
<circle cx="45.5" cy="980.9" r="11.5" fill="#111"/>
<circle cx="65.1" cy="980.9" r="11.4" fill="#111"/>
<circle cx="45.5" cy="980.9" r="9.3" fill="#f5f5f5"/>
<circle cx="65.1" cy="980.9" r="9.2" fill="#f5f5f5"/>
<path d="M44.0 984.2 C44.2 980.4 47.6 977.6 51.4 976.9 C54.0 976.4 56.8 976.6 58.8 976.0 L61.0 974.9 L62.2 977.2 C64.2 978.2 65.4 979.8 66.2 981.4 C67.4 981.8 68.6 982.8 68.6 984.2 C68.4 985.8 67.4 986.8 66.6 987.4 C65.8 988.8 64.8 990.0 63.6 990.8 L47.0 990.8 C45.2 989.4 44.0 987.0 44.0 984.2Z" fill="#111"/>
<path d="M40.5 982.8 L44.2 984.6" stroke="#111" stroke-width="1.1" fill="none"/>
<text x="80.1" y="975.4" font-family="'Liberation Sans', Arial, sans-serif" font-size="11.8" font-weight="bold" fill="#111" letter-spacing="0.9" textLength="54.5" lengthAdjust="spacingAndGlyphs">VISUAL</text>
<text x="80.1" y="986.7" font-family="'Liberation Sans', Arial, sans-serif" font-size="11.8" font-weight="bold" fill="#111" letter-spacing="0.9" textLength="90.0" lengthAdjust="spacingAndGlyphs">CAPITALIST</text>
<text x="192.0" y="975.5" font-family="'Liberation Sans', Arial, sans-serif" font-size="8.40" font-weight="normal" fill="#555555" text-anchor="start" textLength="154.9" lengthAdjust="spacingAndGlyphs">Based on real GDP projections (2021 USD)</text>
<text x="192.0" y="986.4" font-family="'Liberation Sans', Arial, sans-serif" font-size="8.40" font-weight="normal" fill="#555555" text-anchor="start" textLength="194.0" lengthAdjust="spacingAndGlyphs">Source: Goldman Sachs Global Investment Research</text>
<circle cx="428.2" cy="978.7" r="9.2" fill="none" stroke="#555" stroke-width="1"/>
<circle cx="451.6" cy="978.7" r="9.2" fill="none" stroke="#555" stroke-width="1"/>
<circle cx="543.6" cy="978.7" r="9.2" fill="none" stroke="#555" stroke-width="1"/>
<circle cx="567.6" cy="978.7" r="9.2" fill="none" stroke="#555" stroke-width="1"/>
<circle cx="644.6" cy="978.7" r="9.2" fill="none" stroke="#555" stroke-width="1"/>
<text x="428.2" y="984.0" font-family="'Liberation Sans', Arial, sans-serif" font-size="13.00" font-weight="bold" fill="#333333" text-anchor="middle">f</text>
<path d="M449 974.5 L455.5 978.7 L449 982.9Z" fill="#333"/>
<path d="M538.5 981 C541 982.5 545 982.5 547.5 979 C548.5 977.5 549 976 549 975 L550.5 973.8 L548.8 974 C548 972.8 546 972.6 545 973.6 C544.2 974.4 544.2 975.4 544.4 976 C542 976 540 975 538.7 973.6 C538.2 975 538.6 976.6 540 977.4 L538.8 977.2 C539 978.6 540 979.4 541.2 979.7 C540.6 980.2 539.6 980.6 538.5 981Z" fill="#333"/>
<rect x="562.6" y="973.7" width="10" height="10" rx="2.5" fill="#333"/>
<rect x="564.8" y="975.9" width="5.6" height="5.6" rx="1.2" fill="none" stroke="#f5f5f5" stroke-width="1.2"/>
<path d="M641.8 973.2 L641.8 983.5 L644.3 981.2 L646.2 985 L647.6 984.3 L645.8 980.6 L649 980.4Z" fill="#333"/>
<text x="464.2" y="982.2" font-family="'Liberation Sans', Arial, sans-serif" font-size="9.60" font-weight="normal" fill="#444444" text-anchor="start" textLength="63.7" lengthAdjust="spacingAndGlyphs">/visualcapitalist</text>
<text x="581.2" y="982.2" font-family="'Liberation Sans', Arial, sans-serif" font-size="9.60" font-weight="normal" fill="#444444" text-anchor="start" textLength="46.7" lengthAdjust="spacingAndGlyphs">@visualcap</text>
<text x="658.2" y="982.2" font-family="'Liberation Sans', Arial, sans-serif" font-size="9.60" font-weight="normal" fill="#444444" text-anchor="start" textLength="81.0" lengthAdjust="spacingAndGlyphs">visualcapitalist.com</text>
<line x1="32.4" y1="998.0" x2="738.8" y2="998.0" stroke="#d0d0d0" stroke-width="1"/>
<text x="33.6" y="1014.4" font-family="'Liberation Sans', Arial, sans-serif" font-size="8.60" font-weight="bold" fill="#8a8a8a" text-anchor="start" textLength="89.9" lengthAdjust="spacingAndGlyphs" letter-spacing="1.4">COLLABORATORS</text>
<text x="134.4" y="1014.5" font-family="'Liberation Sans', Arial, sans-serif" font-size="8.60" font-weight="bold" fill="#777777" text-anchor="start" textLength="74.9" lengthAdjust="spacingAndGlyphs">RESEARCH + WRITING</text>
<text x="212.5" y="1014.6" font-family="'Liberation Sans', Arial, sans-serif" font-size="9.00" font-weight="normal" fill="#8a8a8a" text-anchor="start" textLength="43.5" lengthAdjust="spacingAndGlyphs">Marcus Lu</text>
<text x="265.4" y="1014.6" font-family="'Liberation Sans', Arial, sans-serif" font-size="9.00" font-weight="normal" fill="#8a8a8a" text-anchor="start">|</text>
<text x="272.2" y="1014.5" font-family="'Liberation Sans', Arial, sans-serif" font-size="8.60" font-weight="bold" fill="#777777" text-anchor="start" textLength="88.1" lengthAdjust="spacingAndGlyphs">ART DIRECTION + DESIGN</text>
<text x="363.4" y="1014.6" font-family="'Liberation Sans', Arial, sans-serif" font-size="9.00" font-weight="normal" fill="#8a8a8a" text-anchor="start" textLength="59.2" lengthAdjust="spacingAndGlyphs">Jennifer West</text>
</svg>
</body></html>
